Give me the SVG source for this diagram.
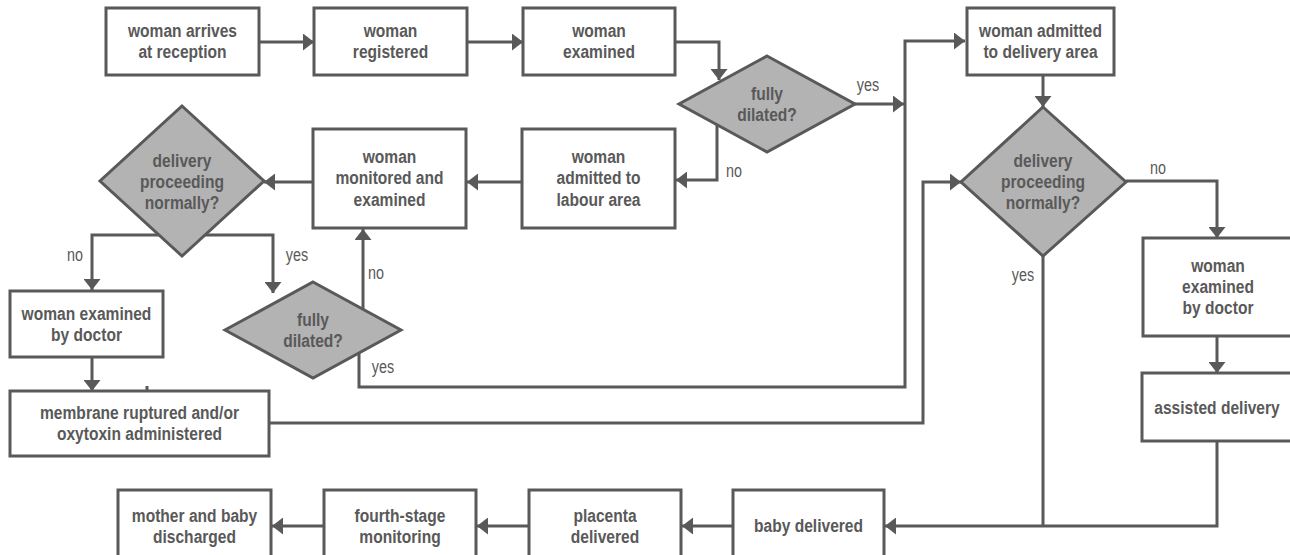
<svg xmlns="http://www.w3.org/2000/svg" width="1290" height="555" viewBox="0 0 1290 555">
<style>
.box{fill:#ffffff;stroke:#595959;stroke-width:3}
.dia{fill:#b3b3b3;stroke:#595959;stroke-width:3}
.t{font-family:"Liberation Sans",Arial,sans-serif;font-weight:bold;font-size:19px;fill:#595959;text-anchor:middle}
.lbl{font-family:"Liberation Sans",Arial,sans-serif;font-size:17.5px;fill:#595959;text-anchor:middle}
.c{fill:none;stroke:#595959;stroke-width:3}
.a{marker-end:url(#ah)}
</style>
<defs>
<marker id="ah" markerWidth="11" markerHeight="17" refX="11" refY="8.5" orient="auto" markerUnits="userSpaceOnUse"><path d="M0,0 L11,8.5 L0,17 z" fill="#595959"/></marker>
</defs>
<g id="connectors">
<path class="c a" d="M259,42 H314"/>
<path class="c a" d="M467,42 H523"/>
<path class="c a" d="M675,42 H719 V80"/>
<path class="c a" d="M855,104 H904"/>
<path class="c a" d="M717,120 V180 H676"/>
<path class="c a" d="M522,182 H467"/>
<path class="c a" d="M313,182 H264"/>
<path class="c a" d="M182,235 H92 V290"/>
<path class="c a" d="M182,235 H273 V293"/>
<path class="c a" d="M363,320 V229"/>
<path class="c a" d="M359,340 V387 H905 V41 H965"/>
<path class="c a" d="M92,357 V391"/>
<path class="c a" d="M269,423 H923 V182 H961"/>
<path class="c a" d="M1043,75 V107"/>
<path class="c a" d="M1126,181 H1217 V238"/>
<path class="c a" d="M1217,336 V373"/>
<path class="c a" d="M1217,441 V526 H885"/>
<path class="c" d="M1043,256 V526"/>
<path class="c a" d="M733,526 H682"/>
<path class="c a" d="M529,526 H477"/>
<path class="c a" d="M324,526 H272"/>
<path class="c" d="M147,386 V391"/>
</g>
<g id="labels">
<text class="lbl" transform="translate(868,91) scale(0.82,1)">yes</text>
<text class="lbl" transform="translate(734,177) scale(0.82,1)">no</text>
<text class="lbl" transform="translate(75,261) scale(0.82,1)">no</text>
<text class="lbl" transform="translate(297,261) scale(0.82,1)">yes</text>
<text class="lbl" transform="translate(376,279) scale(0.82,1)">no</text>
<text class="lbl" transform="translate(383,373) scale(0.82,1)">yes</text>
<text class="lbl" transform="translate(1158,174) scale(0.82,1)">no</text>
<text class="lbl" transform="translate(1023,281) scale(0.82,1)">yes</text>
</g>
<g id="n-reception"><rect class="box" x="106" y="8" width="153" height="67"/><g transform="translate(182.5,0) scale(0.82,1)"><text class="t" y="37">woman arrives</text><text class="t" y="58">at reception</text></g></g>
<g id="n-registered"><rect class="box" x="314" y="8" width="153" height="67"/><g transform="translate(390.5,0) scale(0.82,1)"><text class="t" y="37">woman</text><text class="t" y="58">registered</text></g></g>
<g id="n-examined"><rect class="box" x="523" y="8" width="152" height="67"/><g transform="translate(599,0) scale(0.82,1)"><text class="t" y="37">woman</text><text class="t" y="58">examined</text></g></g>
<g id="n-dilated1"><polygon class="dia" points="767,56 855,104 767,152 679,104"/><g transform="translate(767,0) scale(0.82,1)"><text class="t" y="100">fully</text><text class="t" y="121">dilated?</text></g></g>
<g id="n-delivery-area"><rect class="box" x="967" y="8" width="147" height="67"/><g transform="translate(1040.5,0) scale(0.82,1)"><text class="t" y="37">woman admitted</text><text class="t" y="58">to delivery area</text></g></g>
<g id="n-labour"><rect class="box" x="522" y="129" width="153" height="99"/><g transform="translate(598.5,0) scale(0.82,1)"><text class="t" y="163">woman</text><text class="t" y="184.5">admitted to</text><text class="t" y="206">labour area</text></g></g>
<g id="n-monitored"><rect class="box" x="313" y="129" width="153" height="99"/><g transform="translate(389.5,0) scale(0.82,1)"><text class="t" y="163">woman</text><text class="t" y="184.5">monitored and</text><text class="t" y="206">examined</text></g></g>
<g id="n-proceeding1"><polygon class="dia" points="182,106 264,181 182,256 100,181"/><g transform="translate(182,0) scale(0.82,1)"><text class="t" y="167.5">delivery</text><text class="t" y="188.5">proceeding</text><text class="t" y="209.5">normally?</text></g></g>
<g id="n-proceeding2"><polygon class="dia" points="1043,107 1126,182 1043,256 961,182"/><g transform="translate(1043,0) scale(0.82,1)"><text class="t" y="167.5">delivery</text><text class="t" y="188.5">proceeding</text><text class="t" y="209.5">normally?</text></g></g>
<g id="n-doctor1"><rect class="box" x="10" y="291" width="153" height="66"/><g transform="translate(86.5,0) scale(0.82,1)"><text class="t" y="320">woman examined</text><text class="t" y="341">by doctor</text></g></g>
<g id="n-dilated2"><polygon class="dia" points="313,282 401,330 313,378 225,330"/><g transform="translate(313,0) scale(0.82,1)"><text class="t" y="326">fully</text><text class="t" y="347">dilated?</text></g></g>
<g id="n-membrane"><rect class="box" x="10" y="391" width="259" height="65"/><g transform="translate(139.5,0) scale(0.82,1)"><text class="t" y="419.5">membrane ruptured and/or</text><text class="t" y="440.5">oxytoxin administered</text></g></g>
<g id="n-doctor2"><rect class="box" x="1143" y="238" width="150" height="98"/><g transform="translate(1218,0) scale(0.82,1)"><text class="t" y="272.5">woman</text><text class="t" y="293.5">examined</text><text class="t" y="314.5">by doctor</text></g></g>
<g id="n-assisted"><rect class="box" x="1142" y="373" width="151" height="68"/><g transform="translate(1217,0) scale(0.82,1)"><text class="t" y="414">assisted delivery</text></g></g>
<g id="n-baby"><rect class="box" x="733" y="490" width="151" height="72"/><g transform="translate(808.5,0) scale(0.82,1)"><text class="t" y="532">baby delivered</text></g></g>
<g id="n-placenta"><rect class="box" x="529" y="490" width="152" height="72"/><g transform="translate(605,0) scale(0.82,1)"><text class="t" y="522">placenta</text><text class="t" y="543">delivered</text></g></g>
<g id="n-fourth"><rect class="box" x="324" y="490" width="152" height="72"/><g transform="translate(400,0) scale(0.82,1)"><text class="t" y="522">fourth-stage</text><text class="t" y="543">monitoring</text></g></g>
<g id="n-discharged"><rect class="box" x="118" y="490" width="153" height="72"/><g transform="translate(194.5,0) scale(0.82,1)"><text class="t" y="522">mother and baby</text><text class="t" y="543">discharged</text></g></g>
</svg>
